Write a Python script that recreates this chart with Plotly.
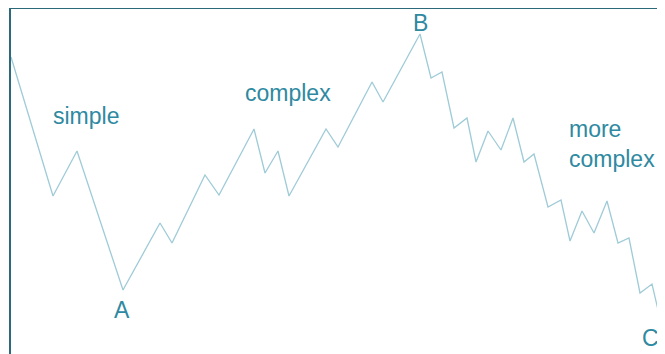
import plotly.graph_objects as go

# time positions and price levels of the wave path
time = [11, 53, 77, 123, 160, 172, 205, 219, 254, 265, 278, 289, 326, 338, 372, 383,
        420, 431, 442, 454, 467, 476, 488, 501, 513, 524, 534, 548, 561, 570, 582,
        594, 607, 618, 629, 640, 652, 662]
price_px = [57, 196, 151, 290, 223, 243, 175, 195, 129, 173, 151, 196, 129, 147, 82, 102,
            34, 78, 72, 128, 118, 162, 131, 150, 118, 162, 154, 207, 200, 241, 211,
            233, 201, 243, 238, 293, 284, 327]
price = [354 - p for p in price_px]

# labels
label_text = ["simple", "complex", "more<br>complex", "A", "B", "C"]
label_x = [86, 288, 567, 122, 420, 650]
label_y = [354 - 116, 354 - 93, 354 - 144, 354 - 310, 354 - 23, 354 - 338]
label_anchor = ["center", "center", "left", "center", "center", "center"]

line_color = "#9fcbd7"
text_color = "#2e89a1"
frame_color = "#2c6a7b"

fig = go.Figure()
fig.add_trace(go.Scatter(x=time, y=price, mode="lines",
                         line=dict(color=line_color, width=1.3),
                         hoverinfo="skip", showlegend=False))

for t, x, y, a in zip(label_text, label_x, label_y, label_anchor):
    fig.add_annotation(x=x, y=y, text=t, showarrow=False, xanchor=a, yanchor="middle",
                       align="left",
                       font=dict(family="Liberation Sans, Arial, sans-serif", size=23,
                                 color=text_color))

# page body has an 8px margin, so the figure is sized to fit the window
fig.update_layout(
    width=657, height=346,
    margin=dict(l=3, r=0, t=1, b=0),
    paper_bgcolor="white", plot_bgcolor="white",
    xaxis=dict(range=[11, 665], showgrid=False, zeroline=False, showticklabels=False,
               ticks="", side="top", showline=True, linecolor=frame_color, linewidth=2,
               fixedrange=True),
    yaxis=dict(range=[0, 345], showgrid=False, zeroline=False, showticklabels=False,
               ticks="", showline=True, linecolor=frame_color, linewidth=2,
               fixedrange=True),
)

fig.write_html("out.html")
